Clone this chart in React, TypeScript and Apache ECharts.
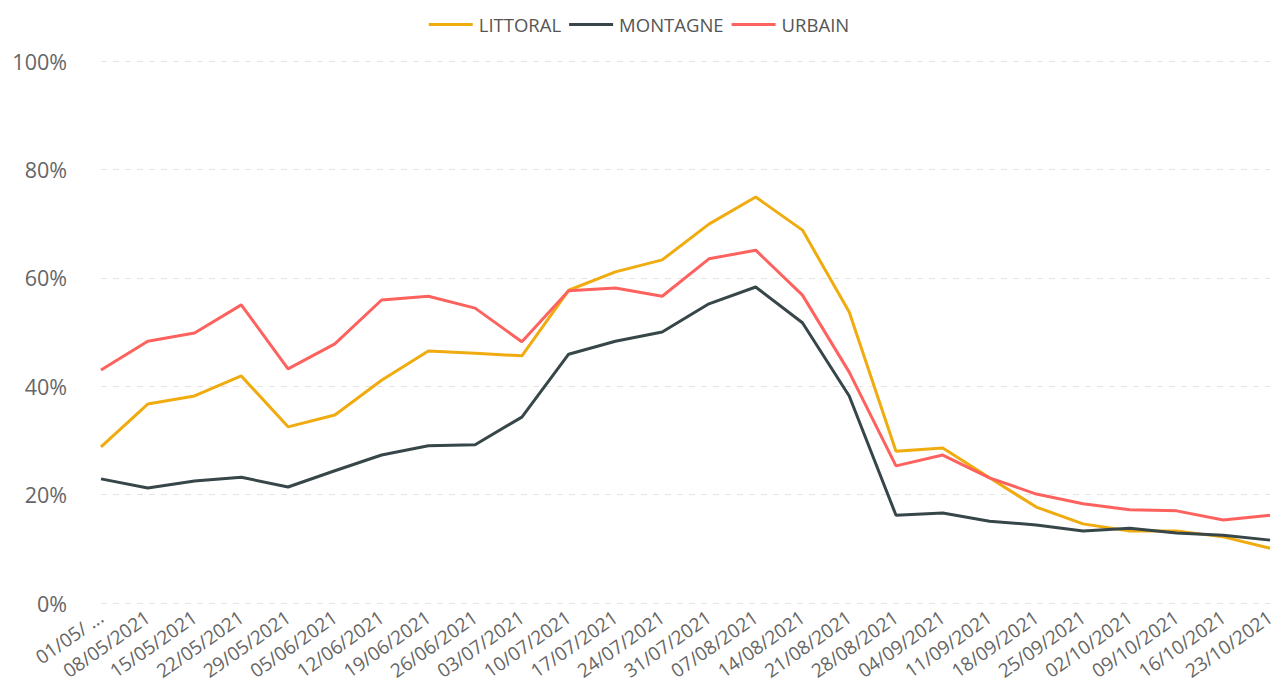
import React, { useEffect, useRef } from "react";
import * as echarts from "echarts";

const categories = [
  "01/05/2021", "08/05/2021", "15/05/2021", "22/05/2021", "29/05/2021", "05/06/2021",
  "12/06/2021", "19/06/2021", "26/06/2021", "03/07/2021", "10/07/2021", "17/07/2021",
  "24/07/2021", "31/07/2021", "07/08/2021", "14/08/2021", "21/08/2021", "28/08/2021",
  "04/09/2021", "11/09/2021", "18/09/2021", "25/09/2021", "02/10/2021", "09/10/2021",
  "16/10/2021", "23/10/2021",
];

const littoral = [
  28.8, 36.7, 38.2, 41.9, 32.5, 34.7, 41.1, 46.5, 46.1, 45.6, 57.7, 61.1, 63.3,
  69.9, 74.9, 68.8, 53.7, 28.0, 28.6, 23.1, 17.7, 14.6, 13.3, 13.3, 12.2, 10.1,
];

const montagne = [
  22.9, 21.2, 22.5, 23.2, 21.4, 24.4, 27.3, 29.0, 29.2, 34.3, 45.9, 48.3, 50.0,
  55.2, 58.3, 51.7, 38.2, 16.2, 16.6, 15.1, 14.4, 13.3, 13.8, 12.9, 12.5, 11.6,
];

const urbain = [
  43.0, 48.3, 49.8, 55.0, 43.2, 47.8, 55.9, 56.6, 54.4, 48.2, 57.6, 58.1, 56.6,
  63.5, 65.1, 56.8, 42.6, 25.3, 27.3, 23.1, 20.1, 18.3, 17.2, 17.0, 15.3, 16.2,
];

const seriesNames = ["LITTORAL", "MONTAGNE", "URBAIN"];
const seriesColors = ["#F0AB0F", "#374649", "#FD625E"];

export default function App() {
  const ref = useRef<HTMLDivElement>(null);

  useEffect(() => {
    if (!ref.current) return;
    const chart = echarts.init(ref.current, null, { renderer: "svg" });
    const data = [littoral, montagne, urbain];
    const font = "'Open Sans', 'Noto Sans', sans-serif";
    chart.setOption({
      animation: false,
      textStyle: { fontFamily: font },
      legend: {
        top: 10,
        left: "center",
        icon: "rect",
        itemWidth: 44,
        itemHeight: 3,
        itemGap: 8,
        textStyle: { color: "#555", fontSize: 18.5, fontFamily: font, padding: [0, 0, 0, 1] },
        data: seriesNames,
      },
      grid: { left: 101, right: 7, top: 61, bottom: 93, containLabel: false },
      xAxis: {
        type: "category",
        data: categories,
        boundaryGap: false,
        axisLine: { show: false },
        axisTick: { show: false },
        axisLabel: {
          rotate: 35,
          interval: 0,
          margin: 12,
          color: "#666",
          fontSize: 19,
          fontFamily: font,
          formatter: (v: string, i: number) => (i === 0 ? v.slice(0, 6) + " ..." : v),
        },
      },
      yAxis: {
        type: "value",
        min: 0,
        max: 100,
        interval: 20,
        axisLine: { show: false },
        axisTick: { show: false },
        axisLabel: {
          formatter: "{value}%",
          color: "#666",
          fontSize: 21.5,
          margin: 34,
          fontFamily: font,
        },
        splitLine: { lineStyle: { color: "#e4e4e4", type: [6, 6], width: 1 } },
      },
      series: seriesNames.map((name, k) => ({
        name,
        type: "line",
        data: data[k],
        symbol: "none",
        color: seriesColors[k],
        lineStyle: { width: 3, color: seriesColors[k] },
      })),
    });
    return () => chart.dispose();
  }, []);

  return (
    <div
      ref={ref}
      style={{ position: "fixed", left: 0, top: 0, width: 1278, height: 696, background: "#fff" }}
    />
  );
}
